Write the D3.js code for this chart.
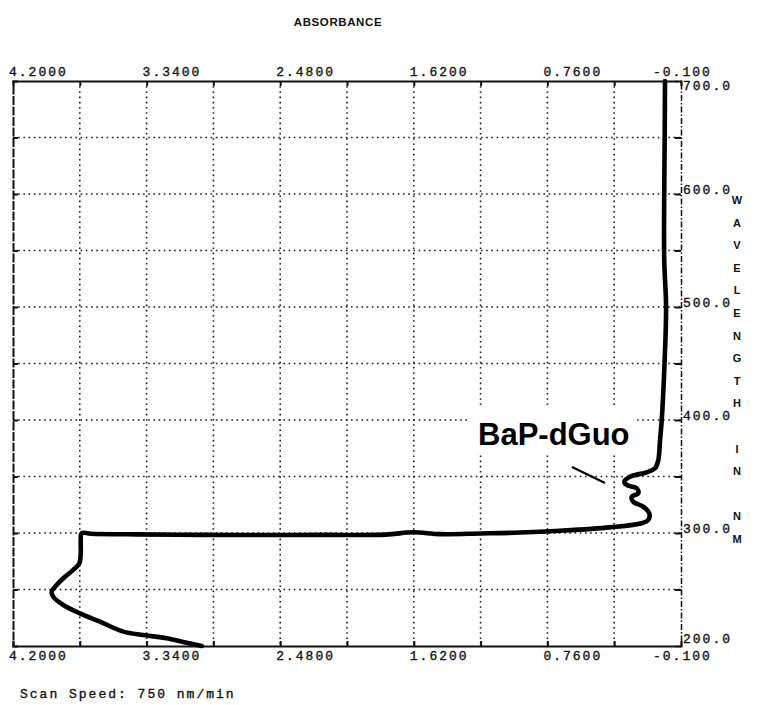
<!DOCTYPE html>
<html>
<head>
<meta charset="utf-8">
<script src="https://cdn.jsdelivr.net/npm/d3@7/dist/d3.min.js"></script>
<style>
  html, body { margin: 0; padding: 0; background: #fff; }
  svg { display: block; }
  .mono { font-family: "Liberation Mono", "DejaVu Sans Mono", monospace; font-size: 13px; letter-spacing: 2px; fill: #111; stroke: #111; stroke-width: 0.35px; }
  .plot { font-family: "Liberation Sans", Arial, sans-serif; font-weight: bold; fill: #111; }
</style>
</head>
<body>
<svg id="chart" width="764" height="705"></svg>
<script>
// Absorbance axis (reversed) and wavelength axis
const absTicks = [4.2, 3.34, 2.48, 1.62, 0.76, -0.1];
const absTickLabels = ["4.2000", "3.3400", "2.4800", "1.6200", "0.7600", "-0.100"];
const absGrid = [3.77, 3.34, 2.91, 2.48, 2.05, 1.62, 1.19, 0.76, 0.33];
const wlTicks = [700, 600, 500, 400, 300, 200];
const wlTickLabels = ["700.0", "600.0", "500.0", "400.0", "300.0", "200.0"];
const wlGrid = [650, 600, 550, 500, 450, 400, 350, 300, 250];
const axisTitleY = ["W","A","V","E","L","E","N","G","T","H","","I","N","","N","M"];

// Scan trace, from 700 nm down to 200 nm
const wavelength = [700, 650, 600, 541.6, 500, 450.4, 400, 382, 364.6, 357.3, 353.7, 349.8, 345.4,
  342.5, 339.6, 335.1, 332.1, 327.7, 323.3, 317.4, 311.5, 308.6, 305, 302, 300.4, 299.6,
  299.0, 300.6, 298.6, 298.3, 298.2, 298.3, 298.8, 299.4, 299.8, 293.8, 282, 273.2,
  267.3, 261.3, 254, 248, 243.6, 236.3, 228.9, 221.5, 212.7, 209.7, 206.8, 202.9, 200];
const absorbance = [0.003, 0.005, 0.008, 0.008, -0.004, 0.006, 0.024, 0.035, 0.046, 0.067, 0.121, 0.229, 0.265,
  0.250, 0.185, 0.175, 0.217, 0.207, 0.143, 0.104, 0.111, 0.153, 0.357, 0.679, 0.936, 1.19,
  1.45, 1.625, 1.80, 2.2, 2.6, 3.0, 3.4, 3.70, 3.758, 3.764, 3.764, 3.773,
  3.812, 3.865, 3.919, 3.951, 3.941, 3.876, 3.769, 3.64, 3.49, 3.361, 3.21, 3.082, 2.985];

const svg = d3.select("#chart");
const plotL = 13, plotR = 681, plotT = 81, plotB = 646;

const x = d3.scaleLinear().domain([4.2, -0.1]).range([plotL, plotR]);
const y = d3.scaleLinear().domain([200, 700]).range([plotB, plotT]);

// Dotted grid
const grid = svg.append("g").attr("stroke", "#1a1a1a").attr("stroke-width", 1.6)
  .attr("stroke-dasharray", "1.6,3.6");
grid.selectAll("line.v").data(absGrid).join("line")
  .attr("x1", d => x(d)).attr("x2", d => x(d)).attr("y1", plotT).attr("y2", plotB);
grid.selectAll("line.h").data(wlGrid).join("line")
  .attr("x1", plotL).attr("x2", plotR).attr("y1", d => y(d)).attr("y2", d => y(d));

// Frame and ticks built from d3 axes
const topAxis = d3.axisTop(x).tickValues(absGrid).tickSize(-5).tickFormat("");
const botAxis = d3.axisBottom(x).tickValues(absGrid).tickSize(-5).tickFormat("");
const leftAxis = d3.axisLeft(y).tickValues(wlGrid).tickSize(-5).tickFormat("");
const rightAxis = d3.axisRight(y).tickValues(wlGrid).tickSize(-6).tickFormat("");

function styleAxis(g, w, dash) {
  g.select(".domain").attr("stroke", "#111").attr("stroke-width", w)
    .attr("stroke-dasharray", dash || null).attr("fill", "none");
  g.selectAll(".tick line").attr("stroke", "#111").attr("stroke-width", 2);
}
svg.append("g").attr("transform", `translate(0,${plotT})`).call(topAxis)
  .call(g => styleAxis(g, 2.2));
svg.append("g").attr("transform", `translate(0,${plotB})`).call(botAxis)
  .call(g => styleAxis(g, 2.2));
svg.append("g").attr("transform", `translate(${plotL},0)`).call(leftAxis)
  .call(g => styleAxis(g, 2, "9,1.5"));
svg.append("g").attr("transform", `translate(${plotR},0)`).call(rightAxis)
  .call(g => styleAxis(g, 1.5, "6,2,1.5,2"));

// Absorbance labels, top and bottom
const labelDx = (d, i) => i === absTicks.length - 1 ? -28 : -4;
svg.append("g").selectAll("text").data(absTicks).join("text")
  .attr("class", "mono")
  .attr("x", (d, i) => x(d) + labelDx(d, i)).attr("y", plotT - 5)
  .text((d, i) => absTickLabels[i]);
svg.append("g").selectAll("text").data(absTicks).join("text")
  .attr("class", "mono")
  .attr("x", (d, i) => x(d) + labelDx(d, i)).attr("y", plotB + 14)
  .text((d, i) => absTickLabels[i]);

// Wavelength labels on the right
const last = wlTicks.length - 1;
svg.append("g").selectAll("text").data(wlTicks).join("text")
  .attr("class", "mono")
  .attr("x", plotR + 2)
  .attr("y", (d, i) => i === 0 ? y(d) + 9 : (i === last ? y(d) - 3 : y(d) - 0.5))
  .text((d, i) => wlTickLabels[i]);

// Titles
svg.append("text").attr("class", "plot")
  .attr("x", 338).attr("y", 26).attr("text-anchor", "middle")
  .attr("font-size", 11.5).attr("letter-spacing", 0.6)
  .text("ABSORBANCE");
svg.append("g").selectAll("text").data(axisTitleY).join("text")
  .attr("class", "plot")
  .attr("x", 737).attr("y", (d, i) => 204 + i * 22.6)
  .attr("text-anchor", "middle").attr("font-size", 11)
  .text(d => d);

svg.append("text").attr("class", "mono")
  .attr("x", 20).attr("y", 698)
  .text("Scan Speed: 750 nm/min");

// Trace
const pts = wavelength.map((w, i) => [absorbance[i], w]);
svg.append("path").datum(pts)
  .attr("fill", "none").attr("stroke", "#000").attr("stroke-width", 4.6)
  .attr("stroke-linejoin", "round").attr("stroke-linecap", "round")
  .attr("d", d3.line().x(d => x(d[0])).y(d => y(d[1])).curve(d3.curveCatmullRom.alpha(0.5)));

// Peak annotation
const note = svg.append("g");
const noteText = note.append("text")
  .attr("x", 478).attr("y", 445)
  .attr("font-family", "'Liberation Sans', Arial, sans-serif")
  .attr("font-weight", "bold").attr("font-size", 31).attr("fill", "#000")
  .text("BaP-dGuo");
const bb = noteText.node().getBBox();
note.insert("rect", "text")
  .attr("x", bb.x - 10).attr("y", bb.y - 10)
  .attr("width", bb.width + 14).attr("height", bb.height + 12)
  .attr("fill", "#fff");
note.append("line")
  .attr("x1", 572).attr("y1", 467).attr("x2", 605).attr("y2", 483)
  .attr("stroke", "#000").attr("stroke-width", 2.2);
</script>
</body>
</html>
